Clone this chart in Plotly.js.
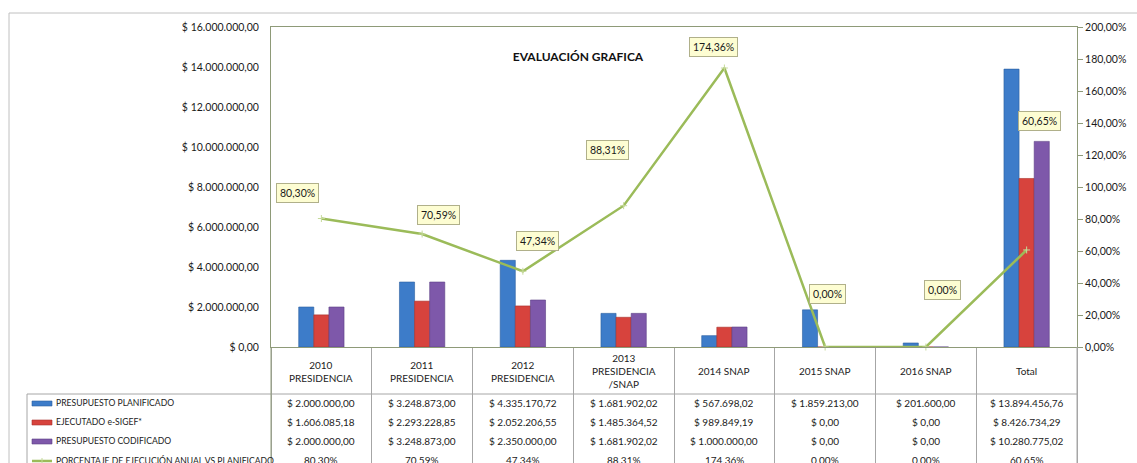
<!DOCTYPE html>
<html><head><meta charset="utf-8">
<script src="https://cdn.plot.ly/plotly-3.0.1.min.js"></script>
<style>html,body{margin:0;padding:0;background:#fff}#chart{width:1137px;height:463px}</style>
</head><body><div id="chart"></div>
<script>
// ---- data ----
const categories = ['2010<br>PRESIDENCIA','2011<br>PRESIDENCIA','2012<br>PRESIDENCIA','2013<br>PRESIDENCIA<br>/SNAP','2014 SNAP','2015 SNAP','2016 SNAP','Total'];
const planificado = [2000000, 3248873, 4335170.72, 1681902.02, 567698.02, 1859213, 201600, 13894456.76];
const ejecutado = [1606085.18, 2293228.85, 2052206.55, 1485364.52, 989849.19, 0, 0, 8426734.29];
const codificado = [2000000, 3248873, 2350000, 1681902.02, 1000000, 0, 0, 10280775.02];
const porcentaje = [80.30, 70.59, 47.34, 88.31, 174.36, 0, 0, 60.65];
const seriesNames = ['PRESUPUESTO PLANIFICADO','EJECUTADO e-SIGEF*','PRESUPUESTO CODIFICADO','PORCENTAJE DE EJECUCIÓN ANUAL VS PLANIFICADO'];
const chartTitle = 'EVALUACIÓN GRAFICA';

// ---- styles / layout helpers ----
const FONT = "Lato,'Liberation Sans',Arial,sans-serif";
const colors = ['#3d7cc9','#d7433d','#7e58aa','#9bbb59'];
const edge = ['#2c5f9f','#a8302b','#5d3f85'];
const labelOffsets = [[-24,-26],[16,-19],[15,-30],[-16,-56],[-11,-21],[2,-53],[17,-57],[13,-129]];
const W=1137,H=463,L=271,R=1077,T=27,B=347;
const px = p => (p-L)/(R-L);
const py = p => (B-p)/(B-T);
function fmtMoney(v){const s=v.toFixed(2).split('.');return '$ '+s[0].replace(/\B(?=(\d{3})+(?!\d))/g,'.')+','+s[1];}
function fmtPct(v){return v.toFixed(2).replace('.',',')+'%';}

const traces = [planificado, ejecutado, codificado].map((vals,i)=>({
  type:'bar', x:categories, y:vals, name:seriesNames[i],
  marker:{color:colors[i], line:{color:edge[i], width:0.6}},
  hoverinfo:'skip'
}));
traces.push({
  type:'scatter', mode:'lines+markers', x:categories, y:porcentaje, yaxis:'y2', name:seriesNames[3],
  line:{color:colors[3], width:2.5},
  marker:{symbol:'cross-thin', size:5, line:{color:'#c5d99a', width:1}},
  hoverinfo:'skip', cliponaxis:false
});

const annotations = [];
const shapes = [];
// data labels
porcentaje.forEach((v,i)=>{
  annotations.push({x:categories[i], y:v, xref:'x', yref:'y2', text:fmtPct(v),
    showarrow:true, arrowcolor:'rgba(0,0,0,0)', arrowwidth:0.1, ax:labelOffsets[i][0], ay:labelOffsets[i][1],
    bgcolor:'#fdfdd2', bordercolor:'#b0b08a', borderwidth:1, borderpad:3,
    font:{family:FONT, size:10.5, color:'#1a1a1a'}});
});
// table header
categories.forEach((c,i)=>{
  annotations.push({x:c, y:py(371), xref:'x', yref:'paper', text:c, showarrow:false,
    xanchor:'center', yanchor:'middle', align:'center', font:{family:FONT, size:10, color:'#222'}});
});
// table rows
const rowY = [403,422,441,460];
const rows = [planificado.map(fmtMoney), ejecutado.map(fmtMoney), codificado.map(fmtMoney), porcentaje.map(fmtPct)];
rows.forEach((r,ri)=>{
  r.forEach((t,i)=>{
    annotations.push({x:categories[i], y:py(rowY[ri]), xref:'x', yref:'paper', text:t, showarrow:false,
      xanchor:'center', yanchor:'middle', font:{family:FONT, size:10, color:'#222'}});
  });
  annotations.push({x:px(54), y:py(rowY[ri]), xref:'paper', yref:'paper', text:seriesNames[ri], showarrow:false,
    xanchor:'left', yanchor:'middle', font:{family:FONT, size:8.6, color:'#222'}});
});
// legend swatches
[0,1,2].forEach(i=>{
  shapes.push({type:'rect', xref:'paper', yref:'paper', x0:px(32), x1:px(52), y0:py(rowY[i]+3), y1:py(rowY[i]-2),
    fillcolor:colors[i], line:{color:edge[i], width:0.6}});
});
shapes.push({type:'line', xref:'paper', yref:'paper', x0:px(32), x1:px(52), y0:py(461), y1:py(461), line:{color:colors[3], width:2.5}});
shapes.push({type:'line', xref:'paper', yref:'paper', x0:px(42), x1:px(42), y0:py(458), y1:py(464), line:{color:'#c5d99a', width:1}});
// table lines
const grid = '#a6a6a6';
shapes.push({type:'line', xref:'paper', yref:'paper', x0:px(27), x1:1, y0:py(394), y1:py(394), line:{color:grid, width:1}});
shapes.push({type:'line', xref:'paper', yref:'paper', x0:px(27), x1:px(27), y0:py(394), y1:py(470), line:{color:grid, width:1}});
shapes.push({type:'line', xref:'paper', yref:'paper', x0:0, x1:0, y0:0, y1:py(470), line:{color:'#8e9a78', width:1}});
shapes.push({type:'line', xref:'paper', yref:'paper', x0:1, x1:1, y0:0, y1:py(470), line:{color:grid, width:1}});
// outer chart border
shapes.push({type:'line', xref:'paper', yref:'paper', x0:px(9), x1:px(1140), y0:py(13), y1:py(13), line:{color:'#c0c0c0', width:1}});
shapes.push({type:'line', xref:'paper', yref:'paper', x0:px(9), x1:px(9), y0:py(13), y1:py(470), line:{color:'#c0c0c0', width:1}});

const layout = {
  width:W, height:H, margin:{l:L, r:W-R, t:T, b:H-B, pad:0},
  paper_bgcolor:'#fff', plot_bgcolor:'#fff',
  separators:',.',
  showlegend:false,
  barmode:'group', bargap:0.55, bargroupgap:0,
  title:{text:'<b>'+chartTitle+'</b>', xref:'container', yref:'container', x:578/W, y:1-57/H, xanchor:'center', yanchor:'middle',
    font:{family:FONT, size:12, color:'#111'}},
  font:{family:FONT, size:10.5, color:'#1a1a1a'},
  xaxis:{type:'category', range:[-0.5,7.5], showticklabels:false, showgrid:false, zeroline:false,
    showline:true, linecolor:'#8e9a78', linewidth:1, mirror:true,
    ticks:'outside', tickson:'boundaries', ticklen:H-B, tickcolor:grid, tickwidth:1},
  yaxis:{range:[0,16000000], dtick:2000000, tickprefix:'$ ', tickformat:',.2f', showgrid:false, zeroline:false,
    showline:true, linecolor:'#8e9a78', linewidth:1, ticks:'', ticklabelstandoff:9,
    tickfont:{family:FONT, size:10.5, color:'#1a1a1a'}},
  yaxis2:{overlaying:'y', side:'right', range:[0,200], dtick:20, ticksuffix:'%', tickformat:'.2f', showgrid:false, zeroline:false,
    showline:true, linecolor:'#8e9a78', linewidth:1, ticks:'outside', ticklen:5, tickcolor:'#8e9a78',
    tickfont:{family:FONT, size:10.5, color:'#1a1a1a'}},
  annotations, shapes
};
Plotly.newPlot('chart', traces, layout, {staticPlot:true, displayModeBar:false});
</script></body></html>
